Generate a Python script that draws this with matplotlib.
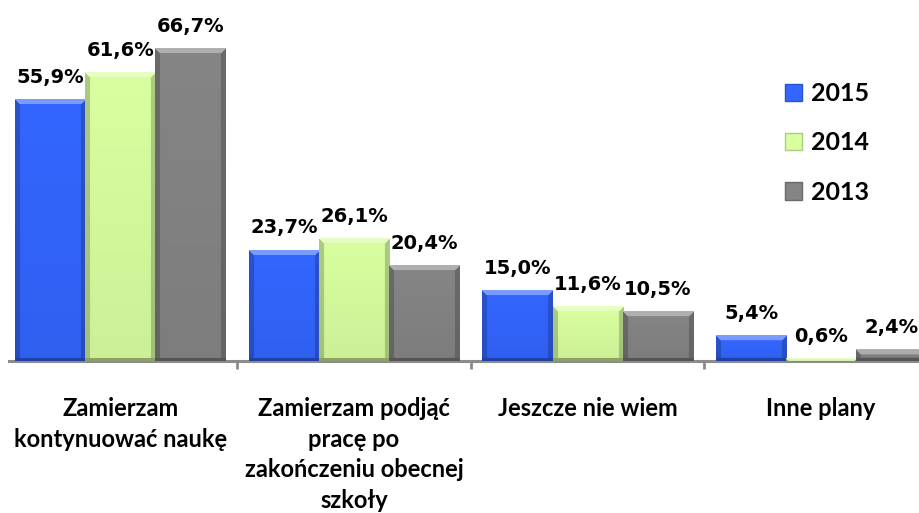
import numpy as np
import matplotlib
matplotlib.use("Agg")
import matplotlib.pyplot as plt
from matplotlib.patches import Patch
from matplotlib.colors import to_rgb

categories = ["Zamierzam\nkontynuować naukę",
              "Zamierzam podjąć\npracę po\nzakończeniu obecnej\nszkoły",
              "Jeszcze nie wiem",
              "Inne plany"]
years = ["2015", "2014", "2013"]
v2015 = [55.9, 23.7, 15.0, 5.4]
v2014 = [61.6, 26.1, 11.6, 0.6]
v2013 = [66.7, 20.4, 10.5, 2.4]
series = [v2015, v2014, v2013]
colors = ["#3366ff", "#d9ffa0", "#858585"]

W, H = 920, 513
fig = plt.figure(figsize=(W / 100, H / 100), dpi=100)
px_per_unit_y = 4.68
ymax = 70
left_px, right_px = 9, 938
base_px = 152
ax = fig.add_axes([left_px / W, base_px / H, (right_px - left_px) / W,
                   ymax * px_per_unit_y / H])
xl = (-0.5 + 5.5 / 233.6, 3.5)
px_per_unit_x = (right_px - left_px) / (xl[1] - xl[0])

bw = 0.3
offsets = [-0.3, 0.0, 0.3]


def shade(c, f):
    c = np.array(to_rgb(c))
    if f >= 1:
        return c + (1 - c) * (f - 1)
    return c * f


def bevel_bar(x0, x1, h, color):
    wp = max(int(round((x1 - x0) * px_per_unit_x)), 2)
    hp = max(int(round(h * px_per_unit_y)), 2)
    yy, xx = np.mgrid[0:hp, 0:wp]
    img = np.tile(np.array(to_rgb(color)), (hp, wp, 1)).astype(float)
    b = 5
    dl = xx
    dr = wp - 1 - xx
    dt = yy
    db = hp - 1 - yy
    light = shade(color, 1.35)
    dark = shade(color, 0.8)
    darker = shade(color, 0.68)
    top = (dt < b) & (dt <= dl) & (dt <= dr)
    img[top] = light
    side = ((dl < b) | (dr < b)) & ~top
    img[side] = dark
    bot = (db < 3) & ~top
    img[bot] = darker
    g = np.linspace(1.0, 0.94, hp)[:, None, None]
    img = np.clip(img * g, 0, 1)
    ax.imshow(img, extent=(x0, x1, 0, h), origin="upper", aspect="auto",
              interpolation="bilinear", zorder=2)


for si, (vals, col) in enumerate(zip(series, colors)):
    for ci, v in enumerate(vals):
        xc = ci + offsets[si]
        bevel_bar(xc - bw / 2, xc + bw / 2, v, col)
        ax.annotate(f"{v:.1f}%".replace(".", ","), (xc, v), xytext=(0, 12),
                    textcoords="offset points", ha="center", va="baseline",
                    fontsize=14, fontweight="bold", family="DejaVu Sans",
                    color="black", zorder=3)

ax.set_xlim(*xl)
ax.set_ylim(0, ymax)
for s in ["top", "left", "right"]:
    ax.spines[s].set_visible(False)
ax.spines["bottom"].set_color("#8c8c8c")
ax.spines["bottom"].set_linewidth(2.2)
ax.spines["bottom"].set_zorder(1)
ax.set_yticks([])
ax.set_xticks(range(len(categories)))
ax.set_xticklabels(categories, fontsize=17, fontweight="bold", family="Lato",
                   linespacing=1.4)
ax.tick_params(axis="x", which="major", length=0, pad=26)
ax.set_xticks([0.5, 1.5, 2.5], minor=True)
ax.tick_params(axis="x", which="minor", length=6, width=2, color="#8c8c8c",
               direction="out")
ax.patch.set_alpha(0)

handles = [Patch(facecolor=c, edgecolor=shade(c, 0.8), linewidth=1) for c in colors]
fig.legend(handles, years, loc="upper left",
           bbox_to_anchor=(785 / W, (H - 82) / H), frameon=False,
           prop={"family": "Lato", "weight": "bold", "size": 18},
           handlelength=0.7, handleheight=0.7, handletextpad=0.35,
           labelspacing=1.05, borderpad=0, borderaxespad=0)

fig.savefig("out.png", dpi=100)
